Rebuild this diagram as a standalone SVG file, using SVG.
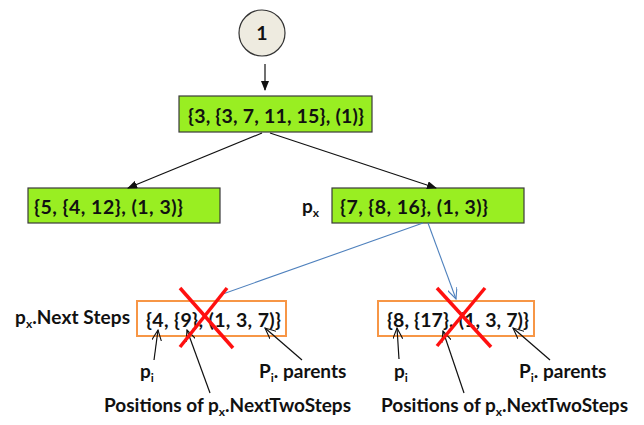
<svg xmlns="http://www.w3.org/2000/svg" width="644" height="425" viewBox="0 0 644 425">
<defs>
<style>
text{font-family:Lato,"Open Sans","Liberation Sans",sans-serif;font-weight:bold;fill:#111;}
.t{font-size:19.5px;}
.l{font-size:19px;}
.sub{font-size:12px;}
.green{fill:#99ee22;stroke:#3a3a3a;stroke-width:1.2;}
.orange{fill:none;stroke:#f79646;stroke-width:2;}
.blk{stroke:#111;stroke-width:1.2;fill:none;}
.blue{stroke:#4f81bd;stroke-width:1.1;fill:none;}
.x{stroke:#ff1010;stroke-width:3.5;stroke-linecap:butt;}
</style>
<marker id="ah" markerWidth="10" markerHeight="8" refX="9" refY="4" orient="auto" markerUnits="userSpaceOnUse">
<path d="M0,0 L10,4 L0,8 z" fill="#111"/>
</marker>
<marker id="ao" markerWidth="12" markerHeight="10" refX="11" refY="5" orient="auto" markerUnits="userSpaceOnUse">
<path d="M0,0 L11,5 L0,10" fill="none" stroke="#111" stroke-width="1.1"/>
</marker>
<marker id="ab" markerWidth="12" markerHeight="10" refX="11" refY="5" orient="auto" markerUnits="userSpaceOnUse">
<path d="M0,0 L11,5 L0,10" fill="none" stroke="#4f81bd" stroke-width="1.1"/>
</marker>
</defs>
<rect width="644" height="425" fill="#fff"/>

<g id="node-1">
<circle cx="262" cy="33" r="23" fill="#eeebe0" stroke="#333" stroke-width="1.2"/>
<text class="t" x="262" y="40" text-anchor="middle">1</text>
</g>

<g id="node-root">
<rect class="green" x="179" y="96" width="193" height="36"/>
<text class="t" x="188" y="123" textLength="176" lengthAdjust="spacing">{3, {3, 7, 11, 15}, (1)}</text>
</g>

<g id="node-left">
<rect class="green" x="28" y="188" width="192" height="35"/>
<text class="t" x="34" y="214" textLength="149" lengthAdjust="spacing">{5, {4, 12}, (1, 3)}</text>
</g>

<g id="node-right">
<text class="l" x="302" y="213">p<tspan class="sub" dy="4">x</tspan></text>
<rect class="green" x="332" y="188" width="192" height="35"/>
<text class="t" x="340" y="214" textLength="148" lengthAdjust="spacing">{7, {8, 16}, (1, 3)}</text>
</g>

<g id="node-next-left">
<text class="l" x="15" y="324" textLength="115" lengthAdjust="spacing">p<tspan class="sub" dy="4">x</tspan><tspan dy="-4">.Next Steps</tspan></text>
<rect class="orange" x="137" y="301" width="149" height="35"/>
<text class="t" x="146" y="327" textLength="135" lengthAdjust="spacing">{4, {9}, (1, 3, 7)}</text>
<text class="l" x="140" y="378">p<tspan class="sub" dy="4">i</tspan></text>
<text class="l" x="259" y="378">P<tspan class="sub" dy="4">i</tspan><tspan dy="-4">. parents</tspan></text>
<text class="l" x="104" y="412">Positions of p<tspan class="sub" dy="4">x</tspan><tspan dy="-4">.NextTwoSteps</tspan></text>
</g>

<g id="node-next-right">
<rect class="orange" x="378" y="301" width="156" height="35"/>
<text class="t" x="387" y="327" textLength="142" lengthAdjust="spacing">{8, {17}, (1, 3, 7)}</text>
<text class="l" x="394" y="378">p<tspan class="sub" dy="4">i</tspan></text>
<text class="l" x="519" y="378">P<tspan class="sub" dy="4">i</tspan><tspan dy="-4">. parents</tspan></text>
<text class="l" x="381" y="412">Positions of p<tspan class="sub" dy="4">x</tspan><tspan dy="-4">.NextTwoSteps</tspan></text>
</g>

<g id="connectors">
<line class="blk" x1="265" y1="64" x2="265" y2="90" marker-end="url(#ah)"/>
<line class="blk" x1="262" y1="133" x2="128" y2="188" marker-end="url(#ah)"/>
<line class="blk" x1="270" y1="133" x2="436" y2="188" marker-end="url(#ah)"/>
<line class="blue" x1="423" y1="223" x2="220" y2="295"/>
<line class="blue" x1="428" y1="223" x2="456" y2="299" marker-end="url(#ab)"/>
<line class="blk" x1="154" y1="360" x2="158" y2="330" marker-end="url(#ao)"/>
<line class="blk" x1="210" y1="393" x2="187" y2="330" marker-end="url(#ao)"/>
<line class="blk" x1="302" y1="360" x2="265" y2="328" marker-end="url(#ao)"/>
<line class="blk" x1="399" y1="359" x2="397" y2="328" marker-end="url(#ao)"/>
<line class="blk" x1="464" y1="393" x2="443" y2="331" marker-end="url(#ao)"/>
<line class="blk" x1="550" y1="360" x2="513" y2="328" marker-end="url(#ao)"/>
</g>

<g id="crosses">
<line class="x" x1="180" y1="288" x2="233" y2="348"/>
<line class="x" x1="227" y1="288" x2="180" y2="347"/>
<line class="x" x1="437" y1="288" x2="491" y2="347"/>
<line class="x" x1="485" y1="288" x2="437" y2="346"/>
</g>
</svg>
